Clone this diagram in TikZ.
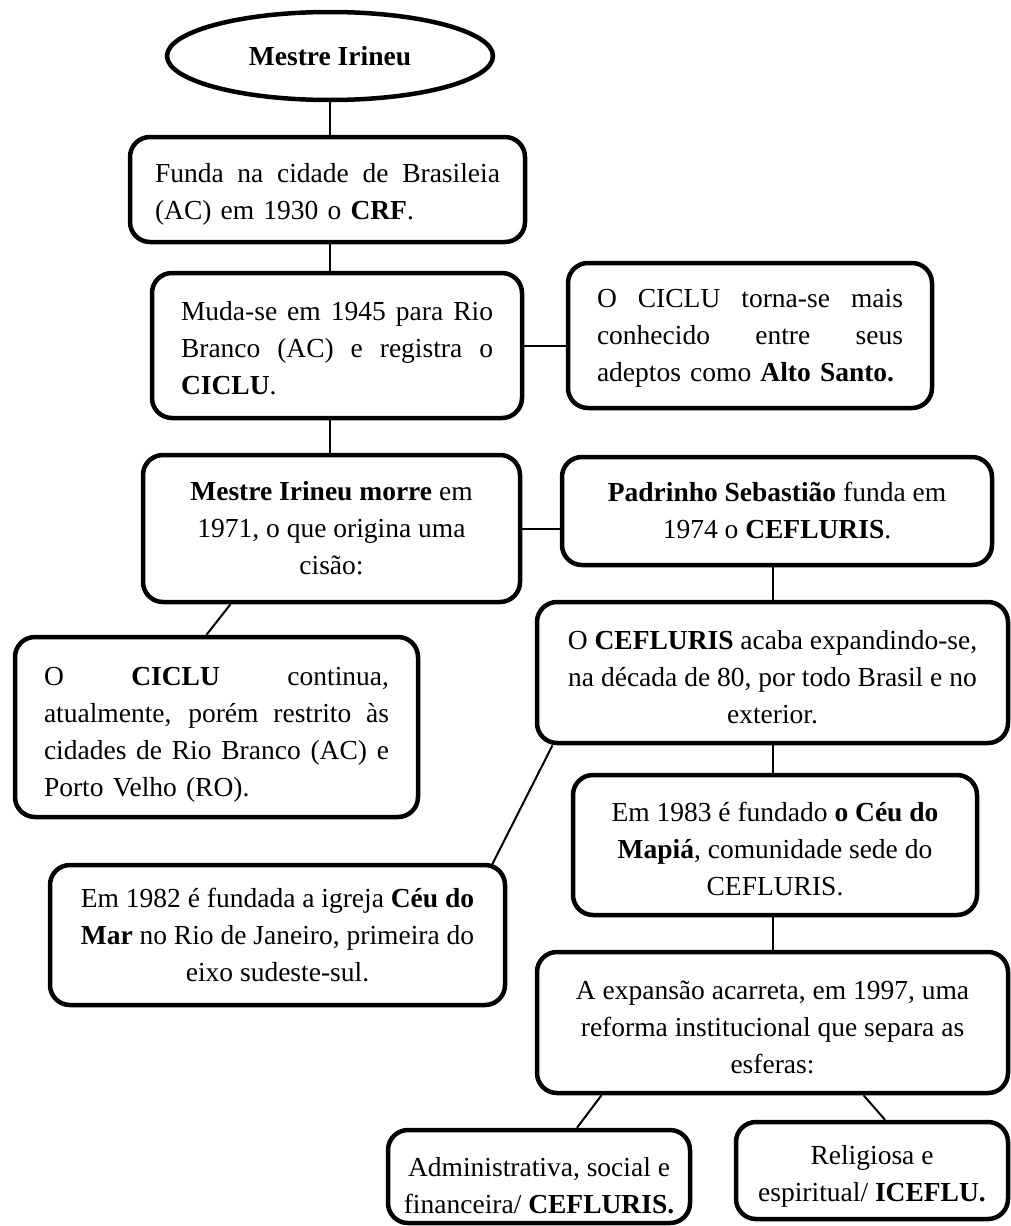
\documentclass[tikz,border=0pt]{standalone}
\usepackage{fontspec}
\setmainfont{Liberation Serif}
\usetikzlibrary{shapes.geometric}
\newcommand{\jl}[2]{\leavevmode\hbox to #1pt{\spaceskip=.25em plus 1fil\relax #2}}
\newcommand{\desce}[1]{\rule{0pt}{#1pt}}
\tikzset{
  caixa/.style={draw, line width=4.5pt, rounded corners=20pt, inner sep=0pt,
    font=\fontsize{27.5}{37}\selectfont},
  ligacao/.style={line width=2pt}
}

\begin{document}
\begin{tikzpicture}[x=1pt,y=-1pt]
\useasboundingbox (0,0) rectangle (1011,1226);
\node[ellipse, draw, line width=4.5pt, minimum width=326pt, minimum height=88pt, inner sep=0pt,
  font=\bfseries\fontsize{27.5}{37}\selectfont] (ell) at (330,56) {Mestre Irineu};
\node[caixa, minimum width=395pt, minimum height=105pt, text width=345pt] (b1) at (327.5,189.5)
  {\jl{345}{\desce{28}Funda na cidade de Brasileia}\\(AC) em 1930 o \textbf{CRF}.};
\node[caixa, minimum width=370pt, minimum height=145pt, text width=312pt] (b2) at (337,345.5)
  {\jl{312}{\desce{24}Muda-se em 1945 para Rio}\\\jl{312}{Branco (AC) e registra o}\\\textbf{CICLU}.};
\node[caixa, minimum width=364pt, minimum height=145pt, text width=306pt] (b3) at (750,335.5)
  {\jl{306}{\desce{24}O CICLU torna-se mais}\\\jl{306}{conhecido entre seus}\\adeptos como \textbf{Alto Santo.}};
\node[caixa, align=center, minimum width=377pt, minimum height=147pt] (b4) at (331.5,528.5)
  {\textbf{Mestre Irineu morre} em\\1971, o que origina uma\\cisão:};
\node[caixa, align=center, minimum width=430pt, minimum height=108pt] (b5) at (777,511)
  {\textbf{Padrinho Sebastião} funda em\\1974 o \textbf{CEFLURIS}.};
\node[caixa, minimum width=403pt, minimum height=180pt, text width=345pt] (b6) at (216.5,727)
  {\jl{345}{\desce{33}O \textbf{CICLU} continua,}\\\jl{345}{atualmente, porém restrito às}\\\jl{345}{cidades de Rio Branco (AC) e}\\Porto Velho (RO).};
\node[caixa, align=center, minimum width=471pt, minimum height=141pt] (b7) at (772.5,672.5)
  {\desce{28}O \textbf{CEFLURIS} acaba expandindo-se,\\na década de 80, por todo Brasil e no\\exterior.};
\node[caixa, align=center, minimum width=404pt, minimum height=140pt] (b8) at (775,845)
  {\desce{28}Em 1983 é fundado \textbf{o Céu do}\\\textbf{Mapiá}, comunidade sede do\\CEFLURIS.};
\node[caixa, align=center, minimum width=455pt, minimum height=140pt] (b9) at (277.5,935)
  {Em 1982 é fundada a igreja \textbf{Céu do}\\\textbf{Mar} no Rio de Janeiro, primeira do\\eixo sudeste-sul.};
\node[caixa, align=center, minimum width=471pt, minimum height=141pt] (b10) at (772.5,1022.5)
  {\desce{28}A expansão acarreta, em 1997, uma\\reforma institucional que separa as\\esferas:};
\node[caixa, align=center, minimum width=302pt, minimum height=93pt] (b11) at (539,1176.5)
  {\desce{37}Administrativa, social e\\financeira/ \textbf{CEFLURIS.}};
\node[caixa, align=center, minimum width=272pt, minimum height=97pt] (b12) at (872,1170.5)
  {\desce{31}Religiosa e\\espiritual/ \textbf{ICEFLU.}};
\draw[ligacao] (ell.south) -- (ell.south |- b1.north);
\draw[ligacao] (b1.south -| ell) -- (b2.north -| ell);
\draw[ligacao] (b2.south -| ell) -- (b4.north -| ell);
\draw[ligacao] (b2.east) -- (b2.east -| b3.west);
\draw[ligacao] (b4.east) -- (b4.east -| b5.west);
\draw[ligacao] ([xshift=-101pt]b4.south) -- ([xshift=-10pt]b6.north);
\draw[ligacao] (b5.south -| b7) -- (b7.north);
\draw[ligacao] ([xshift=-220pt]b7.south) -- ([xshift=214pt,yshift=-3pt]b9.north);
\draw[ligacao] (b7.south) -- (b7.south |- b8.north);
\draw[ligacao] (b8.south -| b7) -- (b10.north);
\draw[ligacao] ([xshift=-171pt]b10.south) -- ([xshift=38pt]b11.north);
\draw[ligacao] ([xshift=91pt]b10.south) -- ([xshift=13pt]b12.north);
\end{tikzpicture}
\end{document}
